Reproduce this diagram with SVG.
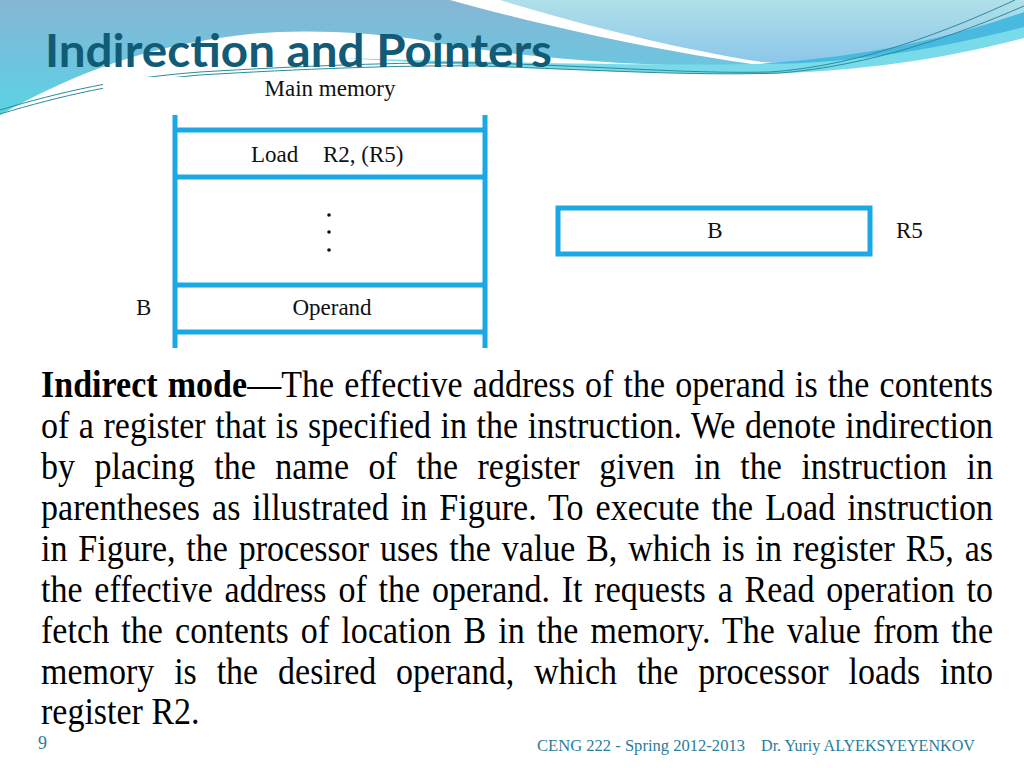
<svg xmlns="http://www.w3.org/2000/svg" width="1024" height="768" viewBox="0 0 1024 768">
<defs>
<linearGradient id="gLeft" x1="0" y1="0" x2="0" y2="1">
<stop offset="0" stop-color="#86b6d4"/>
<stop offset="0.6" stop-color="#6cc6df"/>
<stop offset="1" stop-color="#5ad4e4"/>
</linearGradient>
<linearGradient id="gRight" x1="0" y1="0" x2="0" y2="1">
<stop offset="0" stop-color="#b0e0e8"/>
<stop offset="1" stop-color="#8cc6ea"/>
</linearGradient>
<style>
.mem{stroke:#1ba8e4;stroke-width:5;fill:none}
.fig{font-family:"Liberation Serif","Times New Roman",serif;font-size:23px;fill:#111}
.body{font-family:"Liberation Serif","Times New Roman",serif;font-size:34px;fill:#000}
.foot{font-family:"Liberation Serif","Times New Roman",serif;fill:#2b7c98}
.swl{stroke:#2a8c9c;stroke-width:1;fill:none}
</style>
</defs>
<rect width="1024" height="768" fill="#ffffff"/>
<g id="background">
<path d="M0,0 H450 C540,25 650,50 765,66 C650,68 520,58 420,40 C370,32 300,29 250,34 C150,45 80,70 0,115 Z" fill="url(#gLeft)"/>
<path d="M500,0 H1024 V14 C950,40 880,56 800,62 C780,63 770,63 762,62 C700,52 620,36 500,0 Z" fill="url(#gRight)"/>
<path d="M340,58 C480,62 640,66 760,64 C860,62 950,45 1024,26 V38 C950,58 860,72 760,74 C620,74 480,66 340,58 Z" fill="#79dbe9"/>
<path d="M1024,12 C950,38 870,56 770,63 L760,64 C860,64 950,46 1024,27 Z" fill="#48b9df"/>
<path class="swl" d="M0,110 C60,92 120,78 200,72 C300,66 400,62 480,63 C600,66 690,74 770,72 C860,66 950,30 1015,0"/>
<path class="swl" d="M0,114 C60,96 120,82 200,75 C300,69 400,65 480,66 C600,70 690,76 780,73 C870,66 960,34 1024,6"/>
</g>
<text id="title" x="45" y="67" font-family="Lato,'Open Sans',sans-serif" font-weight="bold" font-size="45" fill="#115b76" textLength="507" lengthAdjust="spacingAndGlyphs">Indirection and Pointers</text>
<rect id="figure-bg" x="103" y="77" width="827" height="279" fill="#ffffff"/>
<g id="main-memory">
<text class="fig" x="330" y="96" text-anchor="middle">Main memory</text>
<line class="mem" x1="175" y1="115" x2="175" y2="348"/>
<line class="mem" x1="485" y1="115" x2="485" y2="348"/>
<line class="mem" x1="175" y1="130" x2="485" y2="130"/>
<line class="mem" x1="175" y1="177" x2="485" y2="177"/>
<line class="mem" x1="175" y1="285" x2="485" y2="285"/>
<line class="mem" x1="175" y1="332" x2="485" y2="332"/>
</g>
<g id="load-cell">
<text class="fig" x="251" y="162">Load</text>
<text class="fig" x="323" y="162">R2, (R5)</text>
</g>
<g id="ellipsis">
<circle cx="329" cy="215" r="1.8" fill="#111"/>
<circle cx="329" cy="232" r="1.8" fill="#111"/>
<circle cx="329" cy="250" r="1.8" fill="#111"/>
</g>
<g id="operand-cell">
<text class="fig" x="332" y="315" text-anchor="middle">Operand</text>
<text class="fig" x="136" y="315">B</text>
</g>
<g id="register-r5">
<rect class="mem" x="558" y="208" width="312" height="46"/>
<text class="fig" x="715" y="238" text-anchor="middle">B</text>
<text class="fig" x="896" y="238">R5</text>
</g>
<g id="connectors"></g>
<g id="paragraph">
<text class="body" transform="translate(41,397) scale(1,1.1)" textLength="952" lengthAdjust="spacing" style="word-spacing:1.6px"><tspan font-weight="bold">Indirect mode</tspan>—The effective address of the operand is the contents</text>
<text class="body" transform="translate(41,438) scale(1,1.1)" textLength="952" lengthAdjust="spacing" style="word-spacing:0.9px">of a register that is specified in the instruction. We denote indirection</text>
<text class="body" transform="translate(41,479) scale(1,1.1)" textLength="952" lengthAdjust="spacing" style="word-spacing:11px">by placing the name of the register given in the instruction in</text>
<text class="body" transform="translate(41,520) scale(1,1.1)" textLength="952" lengthAdjust="spacing" style="word-spacing:3.4px">parentheses as illustrated in Figure. To execute the Load instruction</text>
<text class="body" transform="translate(41,561) scale(1,1.1)" textLength="952" lengthAdjust="spacing" style="word-spacing:2.3px">in Figure, the processor uses the value B, which is in register R5, as</text>
<text class="body" transform="translate(41,602) scale(1,1.1)" textLength="952" lengthAdjust="spacing" style="word-spacing:3.3px">the effective address of the operand. It requests a Read operation to</text>
<text class="body" transform="translate(41,643) scale(1,1.1)" textLength="952" lengthAdjust="spacing" style="word-spacing:3.5px">fetch the contents of location B in the memory. The value from the</text>
<text class="body" transform="translate(41,684) scale(1,1.1)" textLength="952" lengthAdjust="spacing" style="word-spacing:11.3px">memory is the desired operand, which the processor loads into</text>
<text class="body" transform="translate(41,724) scale(1,1.1)">register R2.</text>
</g>
<g id="footer">
<text class="foot" x="38" y="749" font-size="18" fill="#1f6f8e">9</text>
<text class="foot" x="537" y="751" font-size="17" textLength="208" lengthAdjust="spacingAndGlyphs">CENG 222 - Spring 2012-2013</text>
<text class="foot" x="761" y="751" font-size="17" textLength="214" lengthAdjust="spacingAndGlyphs">Dr. Yuriy ALYEKSYEYENKOV</text>
</g>
</svg>
